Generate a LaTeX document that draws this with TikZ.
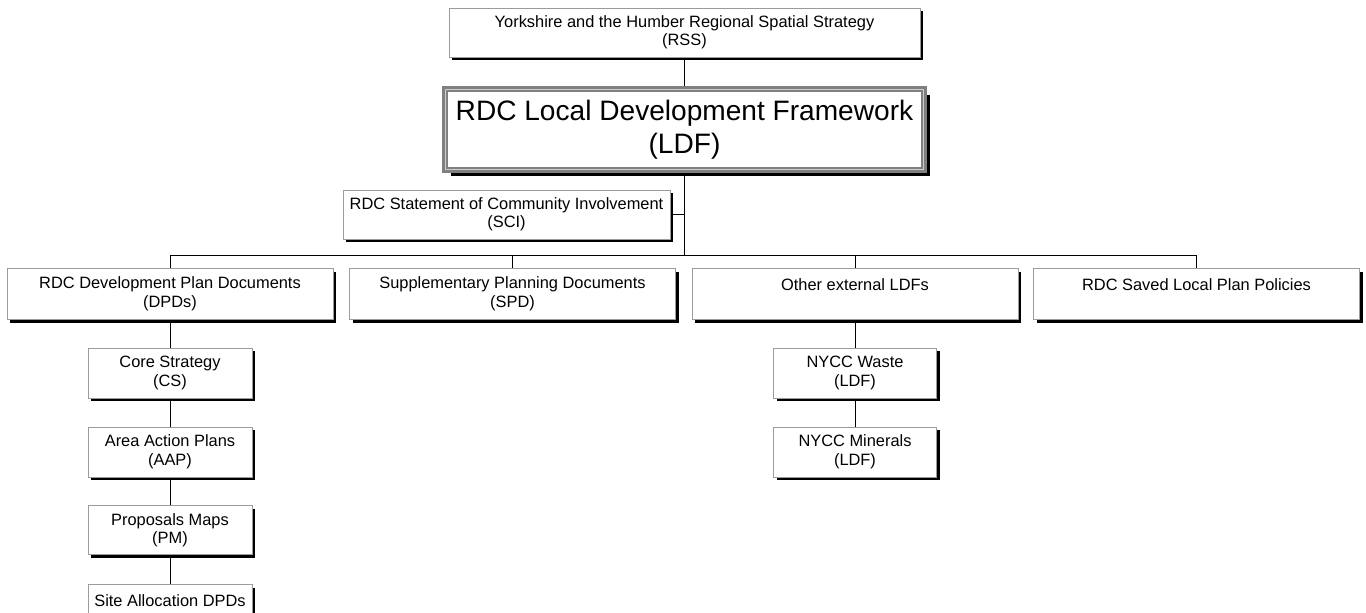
\documentclass[tikz,border=0pt]{standalone}
\usepackage{fontspec}
\setmainfont{Liberation Sans}
\usetikzlibrary{shadows}
\definecolor{bordergray}{RGB}{155,155,155}
\definecolor{ldfgray}{RGB}{128,128,128}
\definecolor{ldflight}{RGB}{205,205,205}
\tikzset{
  box/.style={draw=bordergray, line width=1pt, fill=white, align=center, inner sep=0pt,
    font=\fontsize{16.4}{18.5}\selectfont,
    drop shadow={shadow xshift=3pt, shadow yshift=-3pt, fill=black, opacity=1}},
  ldfbox/.style={draw=ldfgray, line width=6pt, fill=white, align=center, inner sep=0pt,
    font=\fontsize{28.1}{33}\selectfont,
    drop shadow={shadow xshift=6pt, shadow yshift=-6pt, fill=black, opacity=1}},
  link/.style={draw=black, line width=1pt},
}
\begin{document}
\begin{tikzpicture}[x=1pt,y=-1pt]
\useasboundingbox[fill=white] (0,0) rectangle (1366,613);
% top
\node[box, minimum width=471, minimum height=49] (rss) at (684.5,32.5) {Yorkshire and the Humber Regional Spatial Strategy\\(RSS)};
\node[ldfbox, minimum width=479, minimum height=81] (ldf) at (684.5,129.5) {RDC Local Development Framework\\(LDF)};
\draw[ldflight, line width=1pt] ([shift={(3.5,3.5)}]ldf.north west) rectangle ([shift={(-3.5,-3.5)}]ldf.south east);
\node[box, minimum width=327, minimum height=49] (sci) at (506.5,214.5) {RDC Statement of Community Involvement\\(SCI)};
% row
\node[box, minimum width=326, minimum height=51] (dpd) at (170,294) {RDC Development Plan Documents\\(DPDs)};
\node[box, minimum width=326, minimum height=51] (spd) at (512.5,294) {Supplementary Planning Documents\\(SPD)};
\node[box, minimum width=326, minimum height=51] (oth) at (855,294) {Other external LDFs\\\mbox{}};
\node[box, minimum width=326, minimum height=51] (sav) at (1196.5,294) {RDC Saved Local Plan Policies\\\mbox{}};
% left column
\node[box, minimum width=164, minimum height=50] (cs) at (170,373) {Core Strategy\\(CS)};
\node[box, minimum width=164, minimum height=50] (aap) at (170,452) {Area Action Plans\\(AAP)};
\node[box, minimum width=164, minimum height=49] (pm) at (170,530) {Proposals Maps\\(PM)};
\node[box, minimum width=164, minimum height=50, anchor=north] (site) at (170,584) {Site Allocation DPDs\\\mbox{}};
% right column
\node[box, minimum width=163, minimum height=50] (nw) at (855,373) {NYCC Waste\\(LDF)};
\node[box, minimum width=163, minimum height=50] (nm) at (855,452) {NYCC Minerals\\(LDF)};
% connectors
\coordinate (bar) at (684.5,255);
\draw[link] (rss.south) -- (ldf.north);
\draw[link] ([yshift=-3pt]ldf.south) -- (bar);
\draw[link] (sci.east) -- (sci.east -| bar);
\draw[link] (bar) -| (dpd.north);
\draw[link] (bar) -| (spd.north);
\draw[link] (bar) -| (oth.north);
\draw[link] (bar) -| (sav.north);
\draw[link] (dpd.south) -- (cs.north);
\draw[link] (cs.south) -- (aap.north);
\draw[link] (aap.south) -- (pm.north);
\draw[link] (pm.south) -- (site.north);
\draw[link] (oth.south) -- (nw.north);
\draw[link] (nw.south) -- (nm.north);
\end{tikzpicture}
\end{document}
